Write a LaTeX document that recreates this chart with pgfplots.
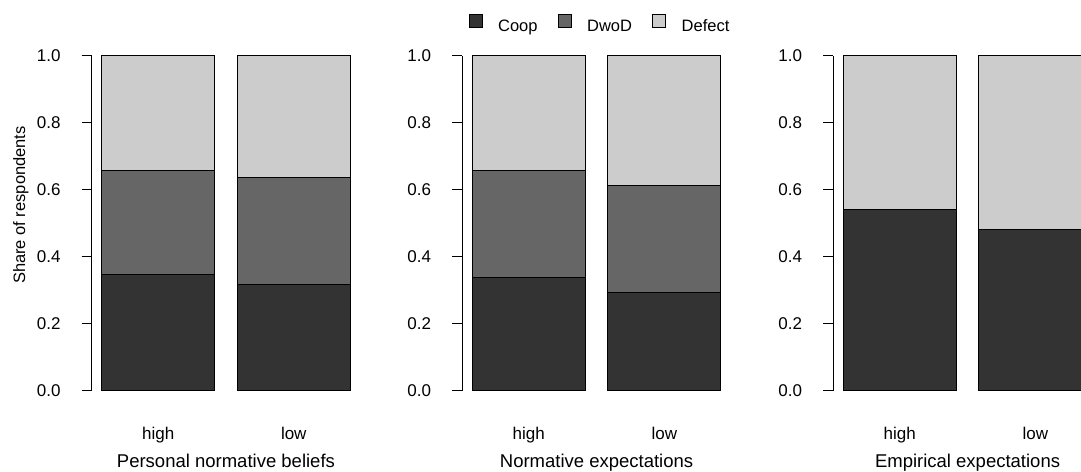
\documentclass[border=0pt]{standalone}
\usepackage{pgfplots}
\pgfplotsset{compat=1.18}
\usepackage{fontspec}
\setmainfont{Liberation Sans}
\definecolor{coop}{HTML}{333333}
\definecolor{dwod}{HTML}{666666}
\definecolor{defect}{HTML}{CCCCCC}
\newcommand\ffs{\fontsize{16.5}{19.8}\selectfont}
\newcommand\tfs{\fontsize{17}{20.4}\selectfont}
\newcommand\lfs{\fontsize{18.5}{22.2}\selectfont}
\pgfplotsset{
  panel/.style={
    scale only axis, width=268.5pt, height=335pt,
    xmin=0.112, xmax=2.488, ymin=0, ymax=1,
    ybar stacked, bar width=1, clip=false,
    separate axis lines,
    axis x line*=bottom, axis y line*=left,
    x axis line style={draw=none},
    y axis line style={-, line width=1pt, black},
    ytick={0,0.2,0.4,0.6,0.8,1},
    /pgf/number format/fixed,
    /pgf/number format/fixed zerofill,
    /pgf/number format/precision=1,
    /pgf/number format/assume math mode=true,
    tick align=outside, major tick length=10pt,
    ytick style={black, line width=1pt},
    xtick style={draw=none},
    yticklabel style={anchor=east, inner sep=0pt, xshift=-21pt, font=\tfs},
    xtick={0.7,1.9}, xticklabels={high,low},
    xticklabel style={anchor=base, inner sep=0pt, yshift=-38.3pt, font=\tfs},
    xlabel style={at={(axis description cs:0.5,-0.2278)}, anchor=base, inner sep=0pt, font=\lfs},
    every axis plot/.append style={draw=black, line width=1.1pt},
  }
}
\begin{document}
\begin{tikzpicture}[x=1pt,y=1pt]
\path[use as bounding box, clip] (0,0) rectangle (1081,471);
% Panel 1
\begin{axis}[panel, at={(91.7pt,80.3pt)}, anchor=south west,
  xlabel={Personal normative beliefs},
  ylabel={Share of respondents},
  ylabel style={at={(axis description cs:-0.2484,0.554)}, anchor=base, inner sep=0pt, font=\ffs},
  legend columns=3,
  legend image code/.code={\draw[#1, draw=black, line width=1pt] (0pt,-0.7pt) rectangle (13pt,12.3pt);},
  legend style={at={(axis description cs:1.4026,1.0955)}, anchor=west, draw=none, fill=none, inner sep=0pt,
    font=\ffs, nodes={inner sep=0pt},
    /tikz/every odd column/.append style={column sep=15.6pt},
    /tikz/every even column/.append style={column sep=20pt}},
]
\addplot[fill=coop] coordinates {(0.7,0.346) (1.9,0.316)};
\addplot[fill=dwod] coordinates {(0.7,0.312) (1.9,0.320)};
\addplot[fill=defect] coordinates {(0.7,0.342) (1.9,0.364)};
\legend{Coop,DwoD,Defect}
\end{axis}
% Panel 2
\begin{axis}[panel, at={(462.3pt,80.3pt)}, anchor=south west,
  xlabel={Normative expectations}]
\addplot[fill=coop] coordinates {(0.7,0.338) (1.9,0.292)};
\addplot[fill=dwod] coordinates {(0.7,0.318) (1.9,0.320)};
\addplot[fill=defect] coordinates {(0.7,0.344) (1.9,0.388)};
\end{axis}
% Panel 3
\begin{axis}[panel, at={(833.3pt,80.3pt)}, anchor=south west,
  xlabel={Empirical expectations}]
\addplot[fill=coop] coordinates {(0.7,0.542) (1.9,0.482)};
\addplot[fill=defect] coordinates {(0.7,0.458) (1.9,0.518)};
\end{axis}
\end{tikzpicture}
\end{document}
